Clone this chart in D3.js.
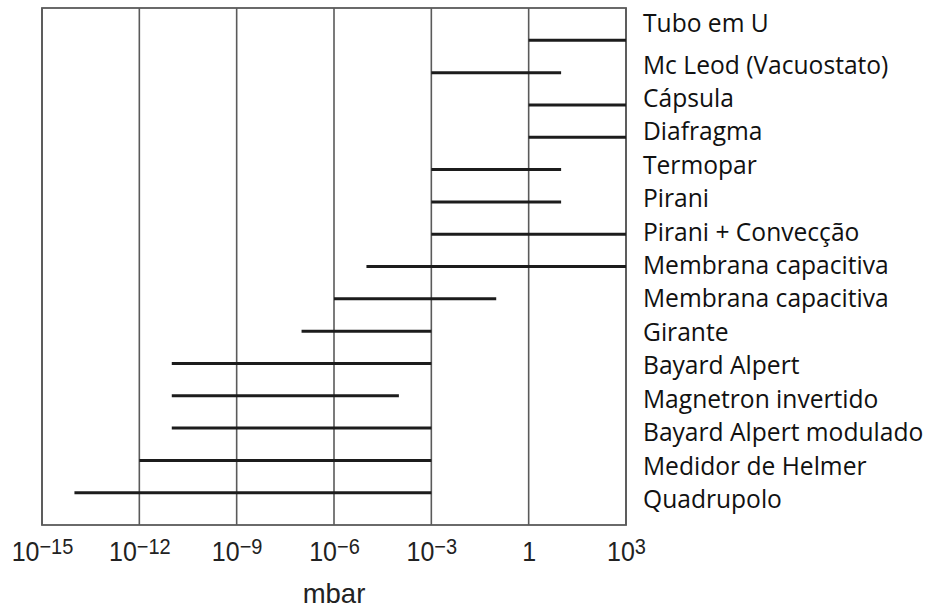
<!DOCTYPE html>
<html>
<head>
<meta charset="utf-8">
<script src="https://cdn.jsdelivr.net/npm/d3@7"></script>
<style>
  html, body { margin: 0; padding: 0; background: #fff; }
  svg { display: block; }
</style>
</head>
<body>
<svg id="chart" width="944" height="607"></svg>
<script>
// ---- data ----
const gauges = [
  "Tubo em U",
  "Mc Leod (Vacuostato)",
  "Cápsula",
  "Diafragma",
  "Termopar",
  "Pirani",
  "Pirani + Convecção",
  "Membrana capacitiva",
  "Membrana capacitiva",
  "Girante",
  "Bayard Alpert",
  "Magnetron invertido",
  "Bayard Alpert modulado",
  "Medidor de Helmer",
  "Quadrupolo"
];
const rangeMin = [1, 1e-3, 1, 1, 1e-3, 1e-3, 1e-3, 1e-5, 1e-6, 1e-7, 1e-11, 1e-11, 1e-11, 1e-12, 1e-14];
const rangeMax = [1e3, 10, 1e3, 1e3, 10, 10, 1e3, 1e3, 1e-1, 1e-3, 1e-3, 1e-4, 1e-3, 1e-3, 1e-3];
const tickExponents = [-15, -12, -9, -6, -3, 0, 3];
const axisTitle = "mbar";

// ---- layout ----
const svg = d3.select("#chart");
const pLeft = 42, pRight = 626, pTop = 8, pBottom = 525;

const x = d3.scaleLog().domain([1e-15, 1e3]).range([pLeft, pRight]);
const y = d3.scalePoint().domain(d3.range(gauges.length)).range([pTop, pBottom]).padding(1);
// label column (text baselines)
const labelY = d3.scaleLinear().domain([1, gauges.length - 1]).range([73.5, 508]);

const tickValues = tickExponents.map(e => Math.pow(10, e));

// gridlines
svg.append("g")
  .selectAll("line")
  .data(tickValues)
  .join("line")
  .attr("x1", d => x(d)).attr("x2", d => x(d))
  .attr("y1", pTop).attr("y2", pBottom)
  .attr("stroke", "#5a5a5a")
  .attr("stroke-width", 1.6);

// frame
svg.append("rect")
  .attr("x", pLeft).attr("y", pTop)
  .attr("width", pRight - pLeft).attr("height", pBottom - pTop)
  .attr("fill", "none")
  .attr("stroke", "#5a5a5a")
  .attr("stroke-width", 1.8);

// range bars
svg.append("g")
  .selectAll("line")
  .data(gauges.map((g, i) => ({ i, lo: rangeMin[i], hi: rangeMax[i] })))
  .join("line")
  .attr("x1", d => x(d.lo)).attr("x2", d => x(d.hi))
  .attr("y1", d => y(d.i)).attr("y2", d => y(d.i))
  .attr("stroke", "#1c1c1c")
  .attr("stroke-width", 3);

// labels
svg.append("g")
  .selectAll("text")
  .data(gauges.map((g, i) => ({ g, i })))
  .join("text")
  .attr("x", 643)
  .attr("y", d => d.i === 0 ? 31.5 : labelY(d.i))
  .attr("font-family", "'Open Sans', 'Noto Sans', sans-serif")
  .attr("font-size", 24.6)
  .attr("fill", "#111")
  .text(d => d.g);

// x axis
const axis = d3.axisBottom(x).tickValues(tickValues).tickSize(0).tickFormat(() => "");
const gAxis = svg.append("g").attr("transform", `translate(0,${pBottom})`).call(axis);
gAxis.select(".domain").remove();
gAxis.selectAll(".tick text").remove();
const vStretch = 1.12;
gAxis.selectAll(".tick").each(function(d, i) {
  const e = tickExponents[i];
  const t = d3.select(this).append("text")
    .attr("transform", `scale(1,${vStretch})`)
    .attr("y", 36 / vStretch)
    .attr("text-anchor", "middle")
    .attr("font-family", "'Liberation Sans', Arial, sans-serif")
    .attr("font-size", 25)
    .attr("fill", "#222");
  if (e === 0) {
    t.text("1");
  } else {
    t.append("tspan").text("10");
    t.append("tspan")
      .attr("dy", -6.5)
      .attr("font-size", 20)
      .text(e < 0 ? "\u2212" + Math.abs(e) : String(e));
  }
});

// axis title
svg.append("text")
  .attr("x", x(1e-6))
  .attr("y", 602.5)
  .attr("text-anchor", "middle")
  .attr("font-family", "'Liberation Sans', Arial, sans-serif")
  .attr("font-size", 27.5)
  .attr("fill", "#222")
  .text(axisTitle);
</script>
</body>
</html>
